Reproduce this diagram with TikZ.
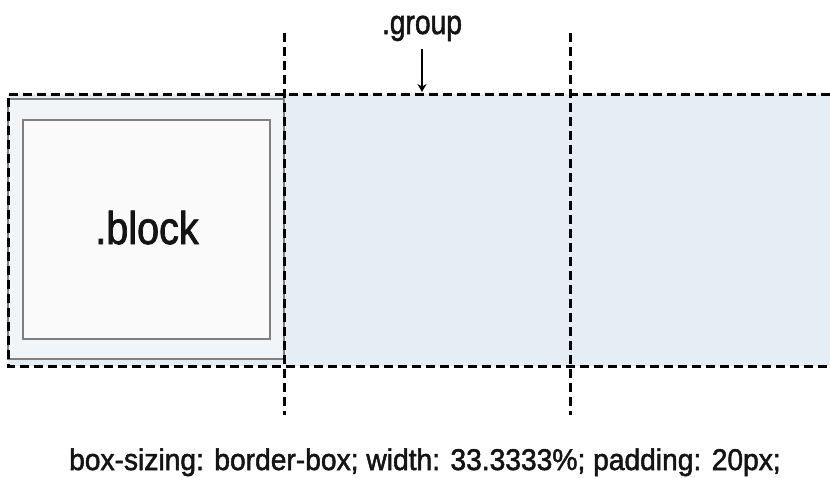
\documentclass[tikz,border=0pt]{standalone}
\usepackage{fontspec}
\usepackage{graphicx}
\setmainfont{Liberation Sans}[FakeBold=1.8]
\usetikzlibrary{arrows.meta}
\definecolor{groupfill}{HTML}{E6EEF5}
\definecolor{blockpad}{HTML}{F2F5F8}
\definecolor{blockin}{HTML}{FAFAFA}
\definecolor{blockline}{HTML}{808080}
\tikzset{
  dashline/.style={draw=black, line width=3pt, dash pattern=on 9pt off 5pt},
  lbl/.style={inner sep=0pt, anchor=base, text=black!92, font=\fontsize{#1}{#1}\selectfont},
}
\begin{document}
\begin{tikzpicture}[x=1pt,y=-1pt]
\useasboundingbox (0,0) rectangle (830,477);
% group fill
\fill[groupfill] (8,94) rectangle (830,366);
% block
\draw[fill=blockpad, draw=blockline, line width=2.2pt] (8,99) rectangle (284,359);
\draw[fill=blockin, draw=blockline, line width=2.2pt] (23,120) rectangle (270,339);
\node[lbl=46] (block) at (147,244) {\scalebox{0.86}[1]{.block}};
% group dashed outline (open to the right)
\draw[dashline] (830,94) -- (8,94) -- (8,366) -- (830,366);
% column dividers
\coordinate (c1t) at (284,33); \coordinate (c1b) at (284,415);
\coordinate (c2t) at (570,33); \coordinate (c2b) at (570,415);
\draw[dashline] (c1t) -- (c1b);
\draw[dashline] (c2t) -- (c2b);
% label
\node[lbl=34] (group) at (422,34) {\scalebox{0.83}[1]{.group}};
\coordinate (gtop) at (422,92);
\draw[line width=2.8pt, -{Stealth[length=8pt,width=9pt]}] (422,49) -- (gtop);
\node[lbl=30] (caption) at (425,470) {\scalebox{0.94}[1]{box-sizing: border-box; width: 33.3333\%; padding: 20px;}};
\end{tikzpicture}
\end{document}
